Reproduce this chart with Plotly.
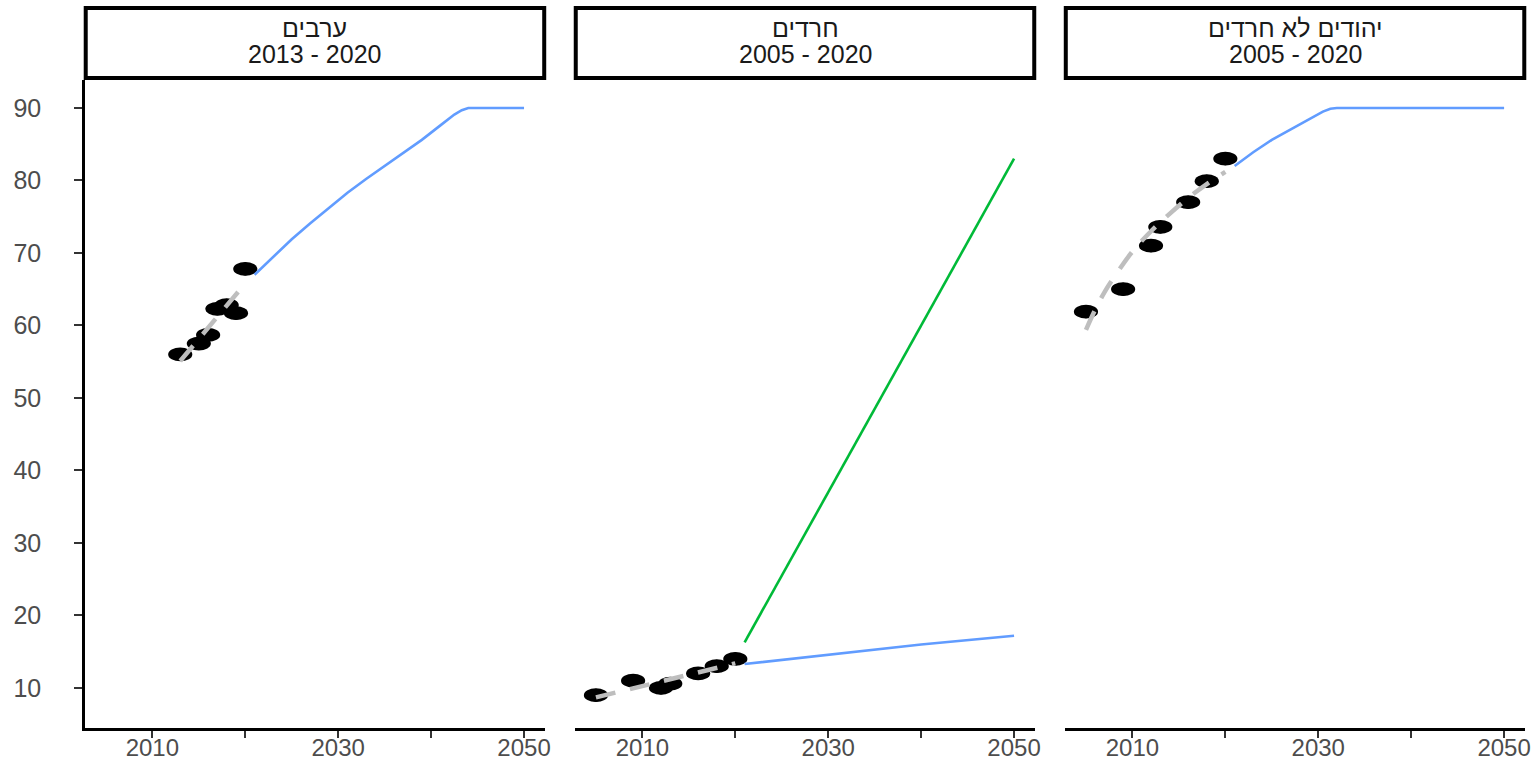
import plotly.graph_objects as go

# ---------------- data ----------------
panel_titles = ["ערבים", "חרדים", "יהודים לא חרדים"]
panel_periods = ["2013 - 2020", "2005 - 2020", "2005 - 2020"]

# observed points
arab_years = [2013, 2015, 2016, 2017, 2018, 2019, 2020]
arab_vals = [56.0, 57.5, 58.7, 62.3, 62.8, 61.7, 67.8]
haredi_years = [2005, 2009, 2012, 2013, 2016, 2018, 2020]
haredi_vals = [9.0, 11.0, 10.0, 10.6, 12.0, 13.0, 14.0]
jew_years = [2005, 2009, 2012, 2013, 2016, 2018, 2020]
jew_vals = [61.9, 65.0, 71.0, 73.6, 77.0, 79.9, 83.0]

# fitted (dashed) trends
arab_fit_years = [2013, 2020]
arab_fit_vals = [55.1, 65.8]
haredi_fit_years = [2005, 2020]
haredi_fit_vals = [8.7, 13.4]
jew_fit_years = [2005, 2006, 2007, 2008, 2010, 2012, 2014, 2016, 2018, 2020]
jew_fit_vals = [59.4, 62.2, 64.6, 66.6, 70.2, 73.0, 75.4, 77.6, 79.5, 81.2]

# projections (blue)
arab_proj_years = [2021, 2023, 2025, 2027, 2029, 2031, 2033, 2035, 2037, 2039, 2041,
                   2042.5, 2043.3, 2044, 2050]
arab_proj_vals = [67.0, 69.5, 71.9, 74.1, 76.2, 78.3, 80.2, 82.0, 83.8, 85.6, 87.6,
                  89.1, 89.7, 90.0, 90.0]
haredi_proj_years = [2021, 2030, 2040, 2050]
haredi_proj_vals = [13.3, 14.6, 16.0, 17.2]
jew_proj_years = [2021, 2023, 2025, 2027, 2029, 2030.5, 2031.3, 2032, 2050]
jew_proj_vals = [82.0, 83.9, 85.6, 87.0, 88.4, 89.5, 89.9, 90.0, 90.0]

# alternative projection (green) – Haredi panel
haredi_alt_years = [2021, 2050]
haredi_alt_vals = [16.3, 83.0]

x_tickvals = [2010, 2020, 2030, 2040, 2050]
x_ticktext = ["2010", "", "2030", "", "2050"]
y_tickvals = [10, 20, 30, 40, 50, 60, 70, 80, 90]

# ---------------- style ----------------
BLUE = "#619CFF"
GREEN = "#00BA38"
GRAY = "#BEBEBE"
FONT = "Liberation Sans, Arial, sans-serif"
TICK_COLOR = "#4D4D4D"
FS = 24

panels = [
    (arab_years, arab_vals, arab_fit_years, arab_fit_vals, arab_proj_years, arab_proj_vals, None, None),
    (haredi_years, haredi_vals, haredi_fit_years, haredi_fit_vals, haredi_proj_years, haredi_proj_vals,
     haredi_alt_years, haredi_alt_vals),
    (jew_years, jew_vals, jew_fit_years, jew_fit_vals, jew_proj_years, jew_proj_vals, None, None),
]

domains = [[0.0, 0.3194], [0.3403, 0.6597], [0.6806, 1.0]]
x_range = [2002.75, 2052.25]
y_range = [4.48, 93.86]

fig = go.Figure()
shapes = []
annotations = []

for i, (px, py, fx, fy, bx, by, gx, gy) in enumerate(panels):
    xa = "x" if i == 0 else f"x{i+1}"
    ya = "y" if i == 0 else f"y{i+1}"
    # ellipse point marks (horizontal ovals) in data coordinates
    for xv, yv in zip(px, py):
        shapes.append(dict(type="circle", xref=xa, yref=ya, layer="below",
                           x0=xv - 1.3, x1=xv + 1.3, y0=yv - 0.95, y1=yv + 0.95,
                           fillcolor="black", line=dict(width=0)))
    fig.add_trace(go.Scatter(x=px, y=py, mode="markers", xaxis=xa, yaxis=ya,
                             marker=dict(color="black", size=13, symbol="circle"),
                             showlegend=False, hoverinfo="x+y"))
    fig.add_trace(go.Scatter(x=fx, y=fy, mode="lines", xaxis=xa, yaxis=ya,
                             line=dict(color=GRAY, width=4.5, dash="20px,15px", shape="spline"),
                             showlegend=False))
    fig.add_trace(go.Scatter(x=bx, y=by, mode="lines", xaxis=xa, yaxis=ya,
                             line=dict(color=BLUE, width=2.6),
                             showlegend=False))
    if gx is not None:
        fig.add_trace(go.Scatter(x=gx, y=gy, mode="lines", xaxis=xa, yaxis=ya,
                                 line=dict(color=GREEN, width=2.6),
                                 showlegend=False))

    # strip header
    d0, d1 = domains[i]
    shapes.append(dict(type="rect", xref="paper", yref="paper",
                       x0=d0 + 0.0005, x1=d1 - 0.0005, y0=1.003, y1=1.111,
                       fillcolor="white", line=dict(color="black", width=4)))
    cx = (d0 + d1) / 2
    annotations.append(dict(text=panel_titles[i], xref="paper", yref="paper",
                            x=cx, y=1.0802, xanchor="center", yanchor="middle",
                            showarrow=False, font=dict(family=FONT, size=25, color="#1A1A1A")))
    annotations.append(dict(text=panel_periods[i], xref="paper", yref="paper",
                            x=cx, y=1.0401, xanchor="center", yanchor="middle",
                            showarrow=False, font=dict(family=FONT, size=25, color="#1A1A1A")))

    axis_x = dict(domain=domains[i], range=x_range, anchor=ya, automargin=False,
                  tickvals=x_tickvals, ticktext=x_ticktext,
                  showgrid=False, zeroline=False, showline=True, linecolor="black", linewidth=2.5,
                  ticks="outside", ticklen=7, tickwidth=2, tickcolor="#333333",
                  ticklabelstandoff=-11,
                  tickfont=dict(family=FONT, size=FS, color=TICK_COLOR))
    axis_y = dict(domain=[0, 1], range=y_range, anchor=xa, automargin=False,
                  tickvals=y_tickvals, showgrid=False, zeroline=False)
    if i == 0:
        axis_y.update(showline=True, linecolor="black", linewidth=2.5,
                      ticks="outside", ticklen=8, tickwidth=2, tickcolor="#333333",
                      ticklabelstandoff=28,
                      tickfont=dict(family=FONT, size=25, color=TICK_COLOR))
    else:
        axis_y.update(showline=False, showticklabels=False, ticks="", matches="y")
    key = "" if i == 0 else str(i + 1)
    fig.update_layout(**{f"xaxis{key}": axis_x, f"yaxis{key}": axis_y})

fig.update_layout(
    width=1534, height=761,
    margin=dict(l=85, r=9, t=80, b=33),
    paper_bgcolor="white", plot_bgcolor="white",
    shapes=shapes, annotations=annotations,
    showlegend=False,
    font=dict(family=FONT),
)

# remove the default page margin so the figure fills the window exactly
fig.write_html("out.html",
               config={"displayModeBar": False},
               post_script="document.body.style.margin='0';document.body.style.overflow='hidden';")
